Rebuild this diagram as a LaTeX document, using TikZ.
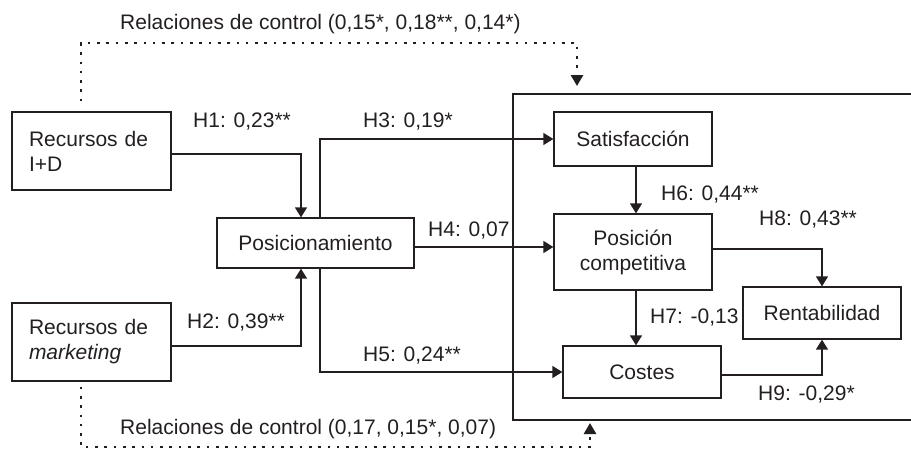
\documentclass[tikz,border=0pt]{standalone}
\usepackage{fontspec}
\setmainfont{Liberation Sans}
\usetikzlibrary{arrows.meta}

\definecolor{ink}{RGB}{35,31,32}

\tikzset{
  var/.style={draw=ink, text=ink, line width=1.3pt, inner sep=0pt, minimum width=158pt, minimum height=52pt, align=center, font=\fontsize{21}{25}\selectfont},
  res/.style={var, inner xsep=17pt, text width=125pt, minimum height=78pt, align=left},
  coef/.style={text=ink, inner sep=0pt, anchor=west, font=\fontsize{21}{25}\selectfont},
  link/.style={draw=ink, line width=1.4pt, -{Triangle[length=10pt,width=12pt]}},
  ctrl/.style={draw=ink, line width=2.6pt, dash pattern=on 2.6pt off 6.7pt, -{Triangle[length=11pt,width=12pt]}},
}

\begin{document}
\begin{tikzpicture}[x=1pt,y=-1pt]

\useasboundingbox (0,0) rectangle (911,450);

% frame round the outcome variables (open on the right)
\coordinate (ftr) at (911,94);
\coordinate (ftl) at (513,94);
\coordinate (fbl) at (513,420);
\coordinate (fbr) at (911,420);

\draw [ink, line width=1.3pt] (ftr)--(ftl)--(fbl)--(fbr);

% variables
\node [res] (rid) at (91.5,151) {Recursos de\\I+D};
\node [res] (rmk) at (91.5,342) {Recursos de\\\textit{marketing}};
\node [var, minimum width=197pt, minimum height=50pt] (pos) at (315.5,243) {Posicionamiento};
\node [var, minimum height=54pt] (sat) at (633,139) {Satisfacción};
\node [var, minimum height=76pt] (comp) at (633,252) {Posición\\competitiva};
\node [var] (rent) at (822,313) {Rentabilidad};
\node [var] (cost) at (642,372) {Costes};

% hypotheses
\draw [link] ([yshift=-3pt]rid.east) -| ([xshift=-14.5pt]pos.north);
\draw [link] ([yshift=-4pt]rmk.east) -| ([xshift=-14.5pt]pos.south);
\draw [link] ([xshift=4.5pt]pos.north) |- (sat.west);
\draw [link] ([yshift=-4pt]pos.east) -- ([yshift=5pt]comp.west);
\draw [link] ([xshift=4.5pt]pos.south) |- (cost.west);
\draw [link] ([xshift=3pt]sat.south) -- ([xshift=3pt]comp.north);
\draw [link] ([xshift=3pt]comp.south) -- ([xshift=-6pt]cost.north);
\draw [link] ([yshift=3pt]comp.east) -| (rent.north);
\draw [link] ([yshift=-3pt]cost.east) -| (rent.south);

% control relations
\coordinate (ctopa) at (81,43);
\coordinate (ctopb) at (577,43);
\coordinate (ctopend) at (577,86);
\coordinate (cbota) at (81,447);
\coordinate (cbotb) at (590,447);
\coordinate (cbotend) at (590,423);

\draw [ctrl] ([xshift=-10.5pt,yshift=10pt]rid.north)--(ctopa)--(ctopb)--(ctopend);
\draw [ctrl] ([xshift=-10.5pt,yshift=-5pt]rmk.south)--(cbota)--(cbotb)--(cbotend);

% coefficients
\node [coef] (ctlup) at (120,24) {Relaciones de control (0,15*, 0,18**, 0,14*)};
\node [coef] (h1) at (193,122) {H1: 0,23**};
\node [coef] (h3) at (363,122) {H3: 0,19*};
\node [coef] (h4) at (428,231) {H4: 0,07};
\node [coef] (h6) at (661,195) {H6: 0,44**};
\node [coef] (h8) at (759,220) {H8: 0,43**};
\node [coef] (h7) at (650,318) {H7: -0,13};
\node [coef] (h2) at (187,323) {H2: 0,39**};
\node [coef] (h5) at (363,356) {H5: 0,24**};
\node [coef] (h9) at (758,395) {H9: -0,29*};
\node [coef] (ctldown) at (120,429) {Relaciones de control (0,17, 0,15*, 0,07)};

\end{tikzpicture}
\end{document}
